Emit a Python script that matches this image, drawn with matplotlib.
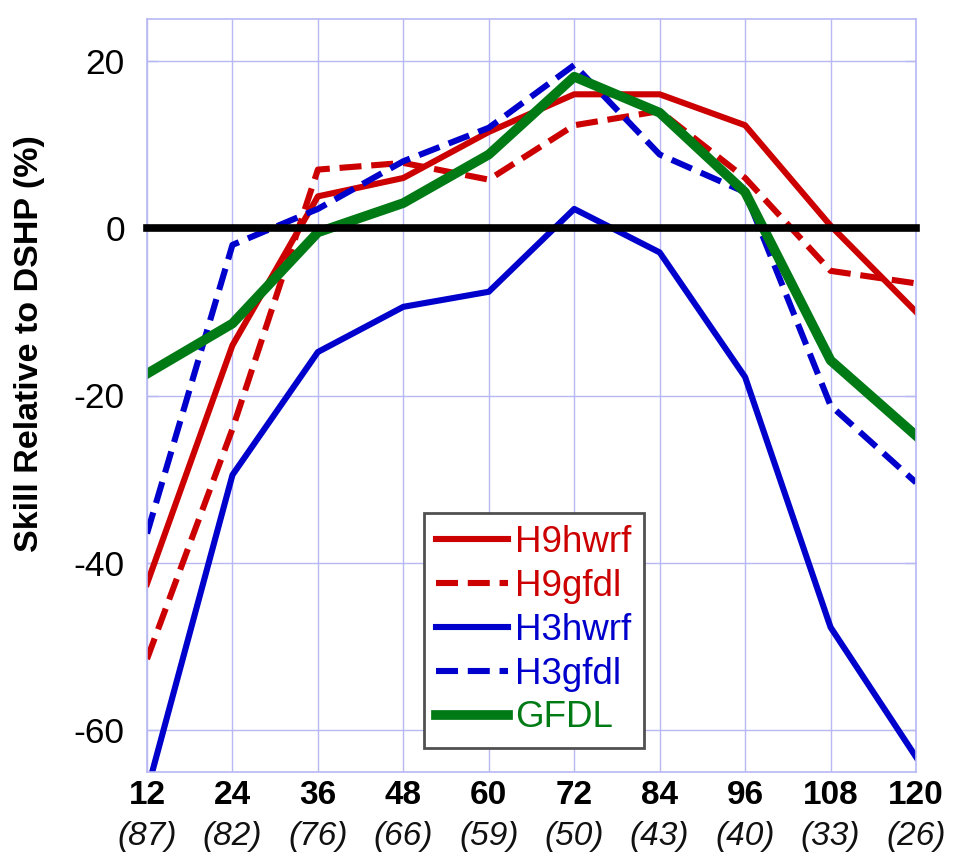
import matplotlib
matplotlib.use("Agg")
import matplotlib.pyplot as plt
from matplotlib.transforms import blended_transform_factory

plt.rcParams['font.family'] = ['Liberation Sans', 'DejaVu Sans']

hours = [12, 24, 36, 48, 60, 72, 84, 96, 108, 120]
counts = [87, 82, 76, 66, 59, 50, 43, 40, 33, 26]

h9hwrf = [-42.5, -14.0, 3.8, 6.0, 11.5, 16.0, 16.0, 12.3, 0.3, -10.0]
h9gfdl = [-51.5, -24.0, 7.0, 7.8, 5.8, 12.3, 14.0, 6.0, -5.1, -6.6]
h3hwrf = [-67.3, -29.5, -14.8, -9.4, -7.6, 2.3, -2.9, -17.8, -47.7, -63.2]
h3gfdl = [-36.5, -2.0, 2.3, 8.0, 12.0, 19.5, 8.8, 4.3, -21.2, -30.4]
gfdl = [-17.4, -11.4, -0.5, 3.0, 8.8, 18.1, 13.8, 4.3, -15.8, -24.8]

yticks = [-60, -40, -20, 0, 20]

RED = '#cc0000'
BLUE = '#0000cc'
GREEN = '#007a14'
GRID = '#b8b8f4'

fig = plt.figure(figsize=(9.61, 8.58), dpi=100)
W, H = 961, 858
ax = fig.add_axes([147 / W, (H - 772) / H, 769 / W, 753 / H])

lw = 4.4
dash = (3.6, 1.6)
ax.plot(hours, h9hwrf, color=RED, lw=lw, label='H9hwrf')
ax.plot(hours, h9gfdl, color=RED, lw=lw, dashes=dash, label='H9gfdl')
ax.plot(hours, h3hwrf, color=BLUE, lw=lw, label='H3hwrf')
ax.plot(hours, h3gfdl, color=BLUE, lw=lw, dashes=dash, label='H3gfdl')
ax.plot(hours, gfdl, color=GREEN, lw=7.0, label='GFDL')
ax.plot([hours[0], hours[-1]], [0, 0], color='black', lw=5.5,
        solid_capstyle='projecting', zorder=3, clip_on=False)

ax.set_xlim(12, 120)
ax.set_ylim(-65, 25)
ax.set_xticks(hours)
ax.set_xticklabels([str(h) for h in hours], fontsize=24, fontweight='bold')
ax.set_yticks(yticks)
ax.set_yticklabels([str(v) for v in yticks], fontsize=25.5)
ax.grid(True, color=GRID, lw=1.0)
ax.set_axisbelow(True)
for s in ax.spines.values():
    s.set_color(GRID)
    s.set_linewidth(1.2)
ax.tick_params(axis='both', direction='in', color=GRID, length=8, width=1,
               left=True, right=True, top=False, bottom=False, pad=16)
ax.tick_params(axis='x', pad=6)

trans = blended_transform_factory(ax.transData, ax.transAxes)
for h, c in zip(hours, counts):
    ax.text(h, (772 - 837) / 753, f'({c})', transform=trans, ha='center',
            va='center', fontsize=24, style='italic', color='#111111')

fig.text(30 / W, (H - 344) / H, 'Skill Relative to DSHP (%)', rotation=90,
         ha='center', va='center', fontsize=24.5, fontweight='bold')

leg = ax.legend(loc='upper left', bbox_to_anchor=(424 / W, (H - 513) / H),
                bbox_transform=fig.transFigure, borderaxespad=0,
                fontsize=26.5, handlelength=1.95, handletextpad=0.2,
                labelspacing=0.24, borderpad=0.33, fancybox=False,
                framealpha=1, edgecolor='#505050')
leg.get_frame().set_linewidth(2.0)
for t, col in zip(leg.get_texts(), [RED, RED, BLUE, BLUE, GREEN]):
    t.set_color(col)

fig.savefig('out.png', dpi=100)
